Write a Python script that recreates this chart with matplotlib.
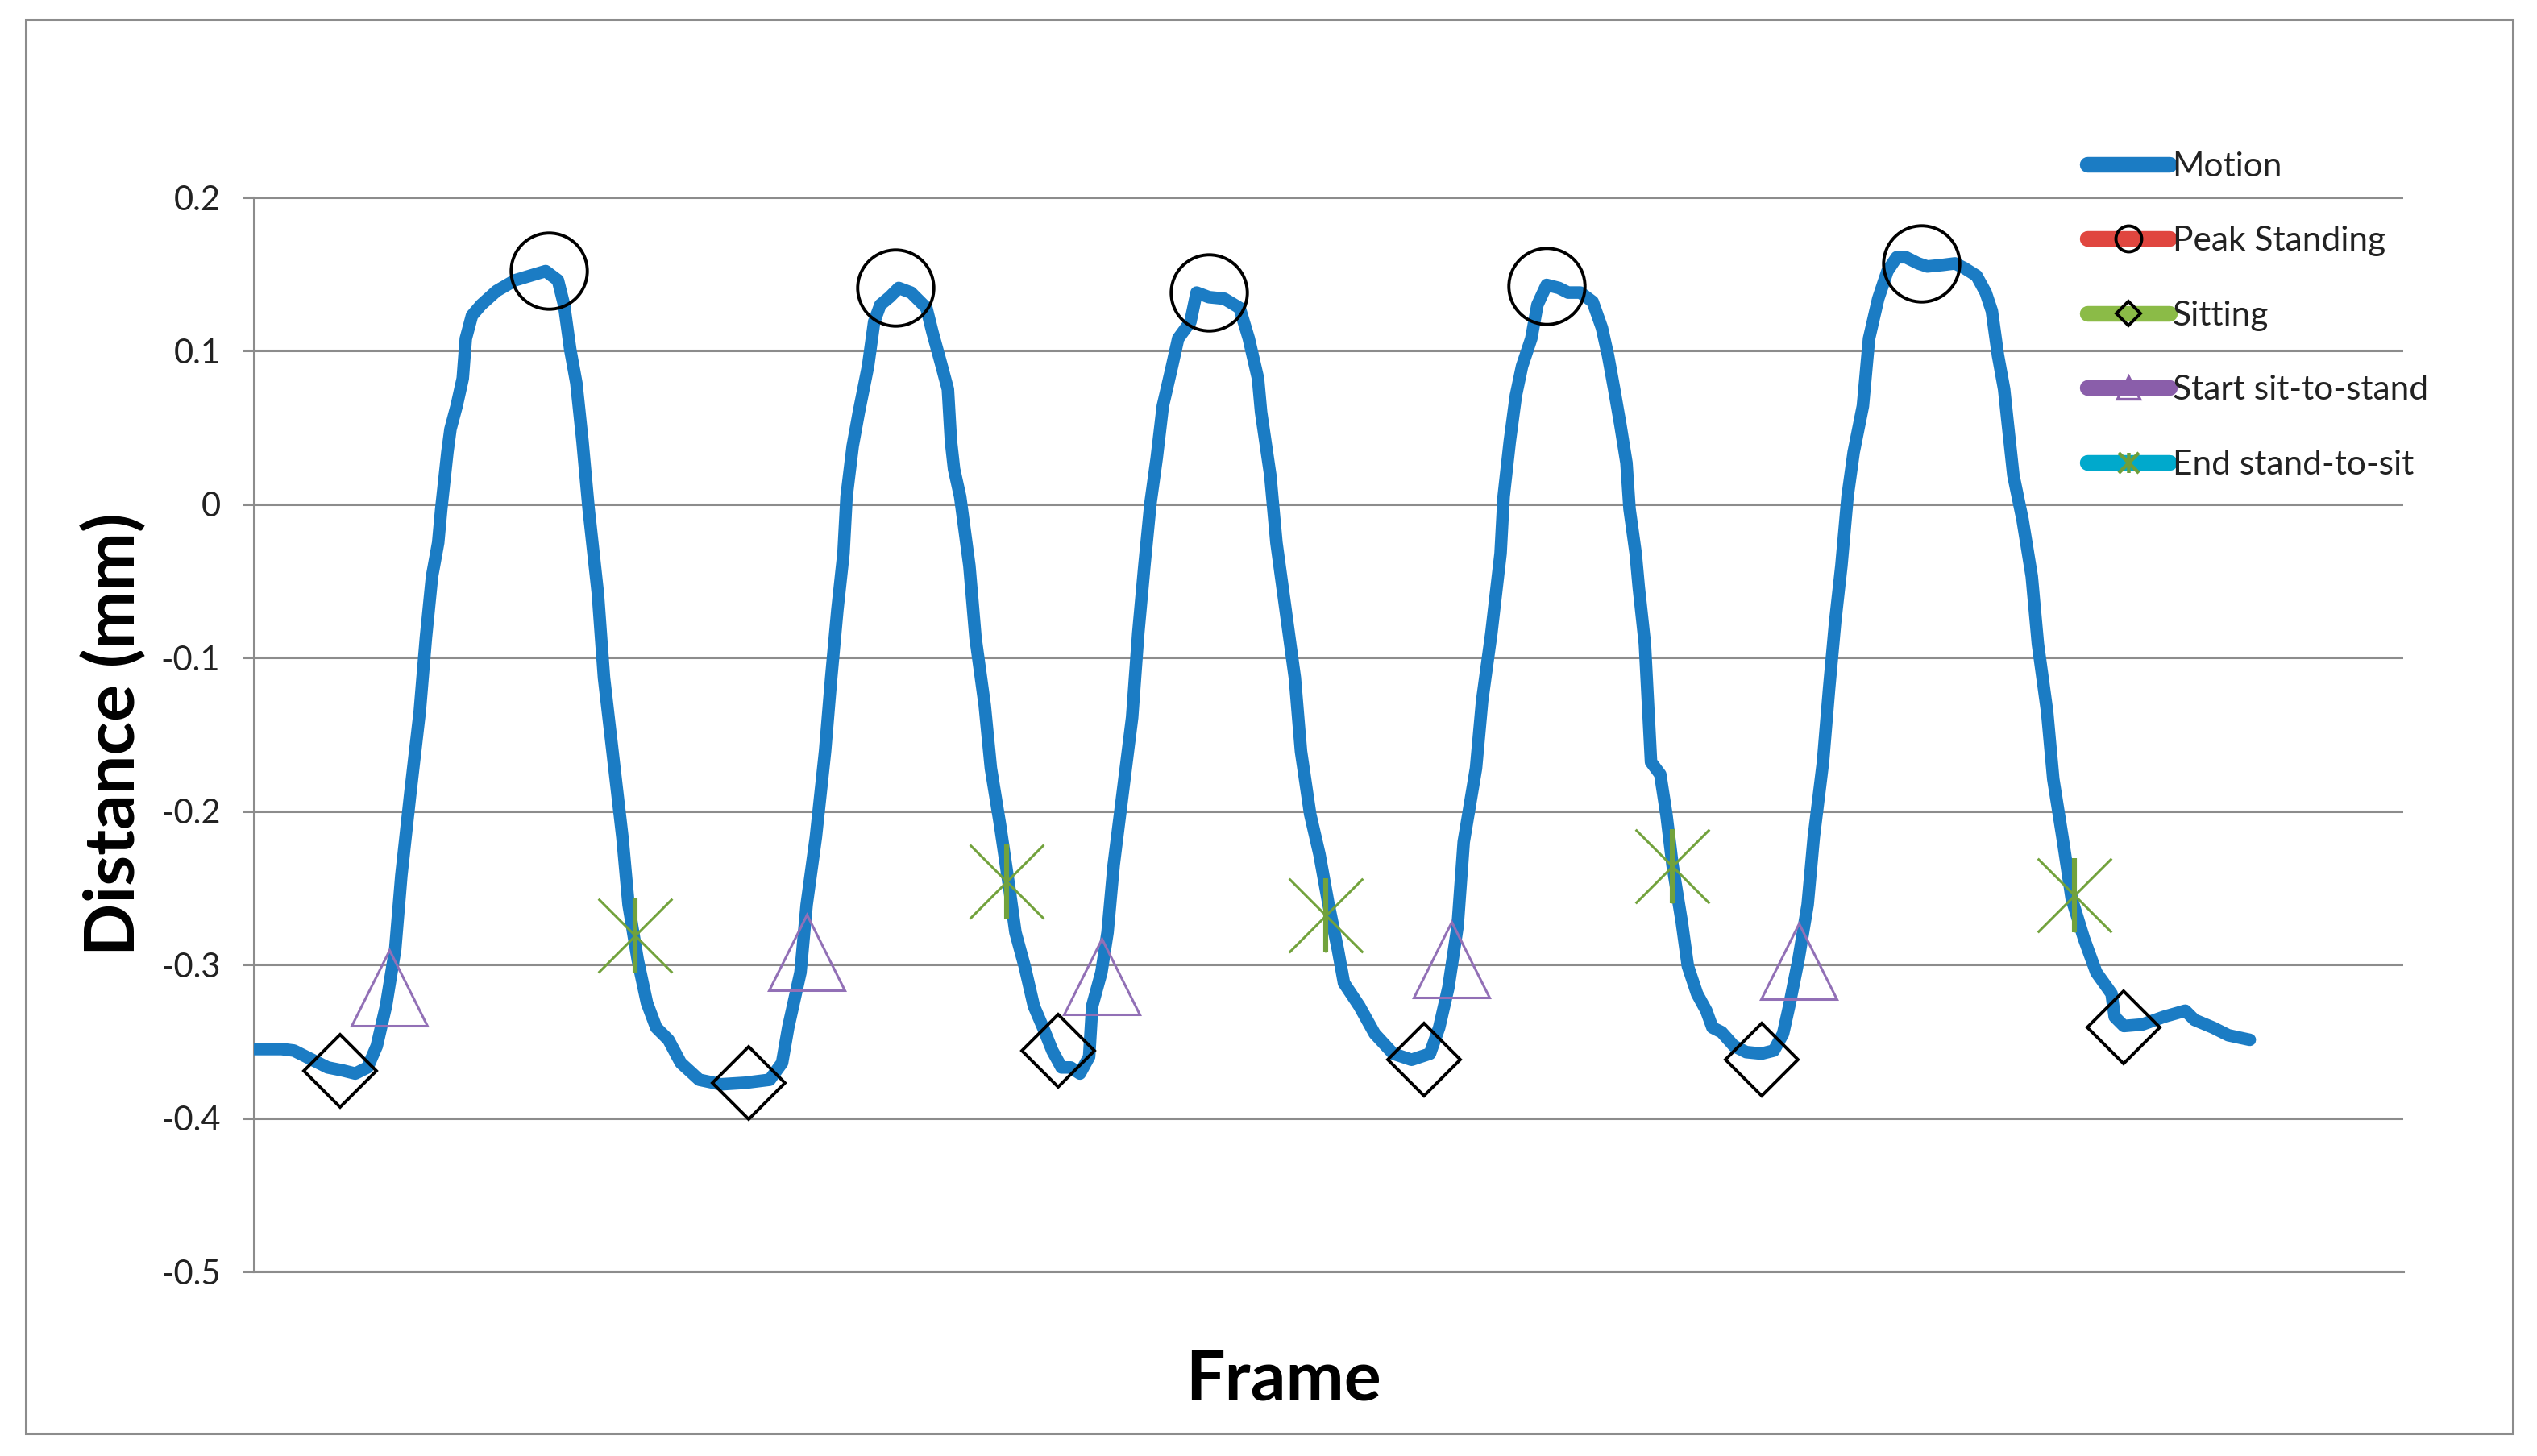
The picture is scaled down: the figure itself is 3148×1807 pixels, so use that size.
import matplotlib
matplotlib.use('Agg')
import matplotlib.pyplot as plt
from matplotlib.lines import Line2D
from matplotlib.patches import Rectangle
from matplotlib.path import Path

# 运动曲线数据 (frame, distance in mm)
frames = [0, 9, 13, 19, 24, 29, 33, 37, 40, 43, 46, 48, 51, 54, 56, 58, 60, 61, 63, 64,
          66, 68, 69, 71, 74, 79, 85, 90, 95, 99, 101, 103, 105, 107, 109, 112, 114, 117, 120, 122,
          125, 128, 131, 135, 139, 145, 152, 160, 168, 172, 174, 178, 180, 183, 186, 188, 190, 192, 193, 195,
          197, 200, 202, 204, 207, 210, 214, 219, 221, 224, 226, 227, 228, 230, 233, 235, 238, 240, 243, 246,
          248, 251, 254, 257, 260, 263, 266, 269, 272, 273, 276, 278, 280, 283, 286, 288, 290, 292, 294, 296,
          299, 301, 305, 307, 311, 316, 321, 324, 327, 328, 331, 333, 336, 339, 341, 344, 347, 350, 353, 355,
          360, 365, 371, 377, 383, 386, 389, 392, 394, 398, 400, 403, 406, 407, 409, 411, 413, 416, 418, 421,
          425, 428, 432, 436, 439, 441, 443, 445, 447, 448, 450, 451, 453, 454, 455, 458, 460, 462, 465, 467,
          470, 473, 475, 478, 482, 486, 491, 495, 498, 500, 503, 506, 508, 511, 513, 515, 517, 519, 521, 524,
          526, 529, 532, 535, 538, 542, 545, 550, 554, 557, 561, 564, 566, 568, 570, 571, 573, 576, 579, 581,
          584, 586, 589, 592, 596, 600, 605, 606, 609, 615, 622, 629, 632, 638, 643, 650]
motion = [-0.355, -0.355, -0.356, -0.362, -0.367, -0.369, -0.371, -0.367, -0.353, -0.327, -0.290, -0.242, -0.187, -0.135, -0.087, -0.047, -0.025, -0.003, 0.034, 0.049,
          0.064, 0.082, 0.108, 0.123, 0.130, 0.139, 0.146, 0.149, 0.152, 0.146, 0.130, 0.101, 0.079, 0.041, -0.003, -0.058, -0.113, -0.165, -0.217, -0.261,
          -0.297, -0.325, -0.341, -0.349, -0.364, -0.375, -0.378, -0.377, -0.375, -0.364, -0.341, -0.305, -0.261, -0.217, -0.161, -0.113, -0.069, -0.032, 0.005, 0.038,
          0.060, 0.090, 0.119, 0.130, 0.135, 0.141, 0.138, 0.128, 0.112, 0.090, 0.075, 0.041, 0.023, 0.005, -0.040, -0.087, -0.131, -0.172, -0.209, -0.250,
          -0.279, -0.301, -0.327, -0.341, -0.356, -0.367, -0.367, -0.371, -0.360, -0.327, -0.305, -0.279, -0.235, -0.187, -0.139, -0.084, -0.040, 0.001, 0.030, 0.064,
          0.090, 0.108, 0.119, 0.138, 0.135, 0.134, 0.128, 0.108, 0.082, 0.060, 0.019, -0.025, -0.069, -0.113, -0.161, -0.202, -0.228, -0.261, -0.290, -0.312,
          -0.327, -0.345, -0.358, -0.362, -0.358, -0.341, -0.315, -0.275, -0.220, -0.172, -0.128, -0.084, -0.032, 0.005, 0.041, 0.071, 0.090, 0.108, 0.130, 0.143,
          0.141, 0.138, 0.138, 0.132, 0.115, 0.097, 0.075, 0.052, 0.027, -0.003, -0.032, -0.054, -0.091, -0.130, -0.168, -0.176, -0.202, -0.235, -0.272, -0.301,
          -0.319, -0.330, -0.341, -0.344, -0.353, -0.357, -0.358, -0.356, -0.345, -0.327, -0.297, -0.261, -0.217, -0.168, -0.120, -0.076, -0.040, 0.005, 0.034, 0.064,
          0.108, 0.134, 0.152, 0.161, 0.161, 0.157, 0.155, 0.156, 0.157, 0.154, 0.149, 0.138, 0.126, 0.097, 0.075, 0.056, 0.019, -0.010, -0.047, -0.091,
          -0.135, -0.179, -0.217, -0.257, -0.283, -0.305, -0.319, -0.334, -0.340, -0.339, -0.334, -0.330, -0.336, -0.341, -0.346, -0.349]

# 事件标记
peak_frames = [96, 209, 311, 421, 543]
peak_vals = [0.152, 0.141, 0.138, 0.142, 0.157]
sit_frames = [28, 161, 262, 381, 491, 609]
sit_vals = [-0.369, -0.377, -0.356, -0.362, -0.362, -0.341]
start_frames = [44, 180, 276, 390, 503]
start_vals = [-0.315, -0.292, -0.308, -0.297, -0.298]
end_frames = [124, 245, 349, 462, 593]
end_vals = [-0.281, -0.246, -0.268, -0.236, -0.255]

y_ticks = [-0.5, -0.4, -0.3, -0.2, -0.1, 0.0, 0.1, 0.2]
y_tick_labels = ['-0.5', '-0.4', '-0.3', '-0.2', '-0.1', '0', '0.1', '0.2']

BLUE = '#1b7cc4'
GRID = '#8c8c8c'
TXT = '#222222'


def main():
    plt.rcParams['font.family'] = ['Lato', 'DejaVu Sans']

    # 星形标记: X 加竖线
    star = Path([(-1, -1), (1, 1), (-1, 1), (1, -1), (0, -1), (0, 1)],
                [Path.MOVETO, Path.LINETO, Path.MOVETO, Path.LINETO, Path.MOVETO, Path.LINETO])

    fig = plt.figure(figsize=(15.74, 9.035), dpi=200)
    ax = fig.add_axes([0.1001, 0.1267, 0.8472, 0.7377])

    ax.plot(frames, motion, color=BLUE, lw=5.6, solid_joinstyle='round', solid_capstyle='round', zorder=3)

    ax.plot(peak_frames, peak_vals, ls='none', marker='o', ms=34, mfc='none', mec='black', mew=1.4, zorder=4)
    ax.plot(sit_frames, sit_vals, ls='none', marker='D', ms=23, mfc='none', mec='black', mew=1.4, zorder=4)
    ax.plot(start_frames, start_vals, ls='none', marker='^', ms=34, mfc='none', mec='#9270b6', mew=1.1, zorder=4)
    ax.plot(end_frames, end_vals, ls='none', marker=star, ms=33, mfc='none', mec='#72a23c', mew=1.1, zorder=4)
    ax.plot(end_frames, end_vals, ls='none', marker='|', ms=33, mec='#72a23c', mew=2.2, zorder=4)

    ax.set_xlim(0, 700)
    ax.set_ylim(-0.5, 0.2)
    ax.set_yticks(y_ticks)
    ax.set_yticklabels(y_tick_labels)
    ax.set_xticks([])
    ax.grid(axis='y', color=GRID, lw=1.1, zorder=0)
    ax.set_axisbelow(True)
    for s in ['top', 'right']:
        ax.spines[s].set_visible(False)
    for s in ['left', 'bottom']:
        ax.spines[s].set_color(GRID)
        ax.spines[s].set_linewidth(1.1)
    ax.tick_params(axis='y', length=5, width=1.1, color=GRID, pad=10, labelsize=15, labelcolor=TXT)

    ax.set_xlabel('Frame', fontsize=31, fontweight='bold', color='black')
    ax.set_ylabel('Distance (mm)', fontsize=31, fontweight='bold', color='black')
    ax.xaxis.set_label_coords(0.479, -0.1013)
    ax.xaxis.label.set_va('center')
    ax.yaxis.set_label_coords(-0.0652, 0.5)
    ax.yaxis.label.set_va('center')

    # 图例
    handles = [
        Line2D([], [], color=BLUE, lw=7, solid_capstyle='round'),
        Line2D([], [], color='#e0463f', lw=7, solid_capstyle='round', marker='o', ms=11.5, mfc='none', mec='black', mew=1.4),
        Line2D([], [], color='#8bbb47', lw=7, solid_capstyle='round', marker='D', ms=7.6, mfc='none', mec='black', mew=1.4),
        Line2D([], [], color='#8a5eaa', lw=7, solid_capstyle='round', marker='^', ms=10, mfc='none', mec='#8a5eaa', mew=1.2),
        Line2D([], [], color='#00a9cc', lw=7, solid_capstyle='round', marker=star, ms=9, mfc='none', mec='#6f9e3a', mew=1.6),
    ]
    labels = ['Motion', 'Peak Standing', 'Sitting', 'Start sit-to-stand', 'End stand-to-sit']
    leg = fig.legend(handles, labels, loc='upper left', bbox_to_anchor=(0.8228, 0.896), frameon=False,
                     fontsize=15.3, handlelength=2.4, handletextpad=0.08, labelspacing=1.28,
                     borderpad=0, borderaxespad=0)
    for t in leg.get_texts():
        t.set_color(TXT)

    # 外框
    fig.patches.append(Rectangle((32 / 3148, 1 - 1779 / 1807), (3118 - 32) / 3148, (1779 - 24) / 1807,
                                 transform=fig.transFigure, fill=False, ec=GRID, lw=1.1))

    fig.savefig('out.png', dpi=200)


if __name__ == "__main__":
    main()
